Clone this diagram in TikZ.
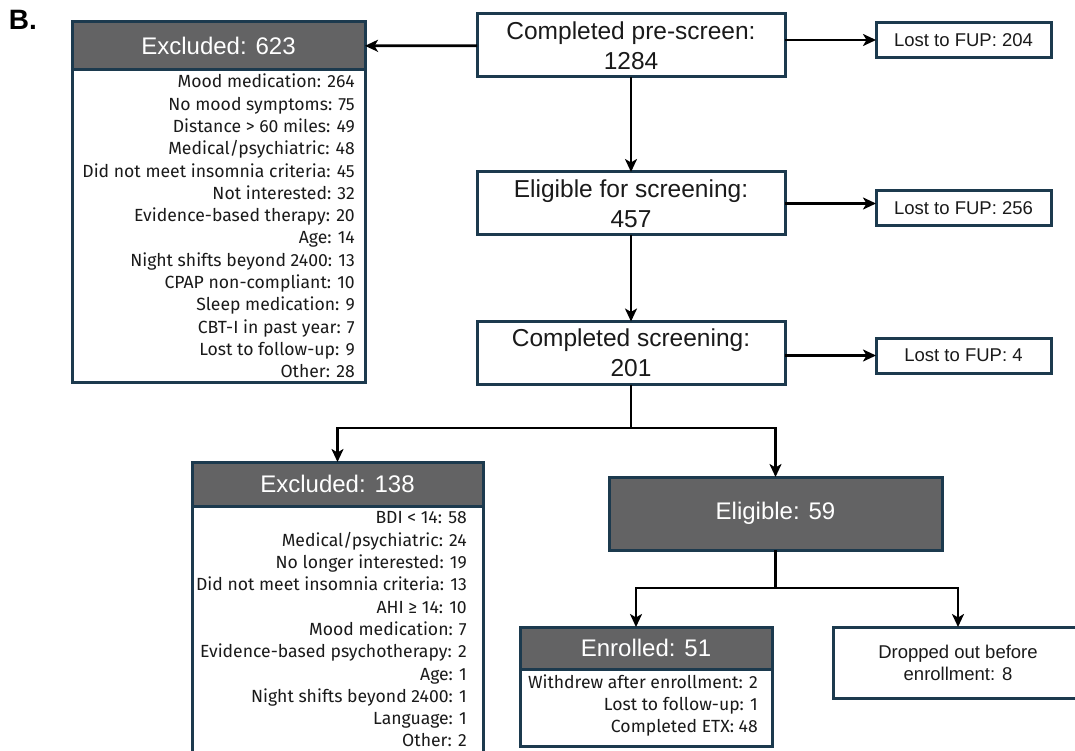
\documentclass[tikz,border=0pt]{standalone}
\usepackage{fontspec}
\setmainfont{Liberation Sans}
\newfontfamily\listfont{Fira Sans}
\usepackage{xcolor}
\usetikzlibrary{positioning,arrows.meta}
\definecolor{navy}{RGB}{28,58,78}
\definecolor{hdrgray}{RGB}{99,99,100}
\definecolor{ink}{RGB}{26,26,26}

\begin{document}
\begin{tikzpicture}[x=1pt,y=-1pt,
  mainbox/.style={draw=navy,line width=3pt,fill=white,outer sep=0pt,inner sep=0pt,minimum width=308pt,minimum height=63pt,align=center,text=ink,font=\fontsize{24.5}{30}\selectfont},
  lostbox/.style={draw=navy,line width=3pt,fill=white,outer sep=0pt,inner sep=0pt,minimum width=175pt,minimum height=35pt,align=center,text=ink,font=\fontsize{18.5}{22}\selectfont},
  hdr/.style={draw=navy,line width=3pt,fill=hdrgray,outer sep=0pt,inner sep=0pt,text=white,font=\fontsize{24}{28}\selectfont},
  lstbox/.style={draw=navy,line width=3pt,fill=white,outer sep=0pt,inner sep=0pt},
  lst/.style={inner sep=0pt,align=right,text=ink,font=\listfont\fontsize{17.6}{22.3}\selectfont},
  arr/.style={line width=2.8pt,-{Stealth[length=13pt,width=12pt,inset=3.5pt]}},
  link/.style={line width=2.8pt}
]
\useasboundingbox (0,0) rectangle (1075,751);
\clip (0,0) rectangle (1075,751);

\node[font=\bfseries\fontsize{28}{30}\selectfont] (lbl) at (23,20) {B.};

% main column
\node[mainbox] (pre) at (631,45.5) {Completed pre-screen:\\1284};
\node[mainbox] (elig) at (631,203.5) {Eligible for screening:\\457};
\node[mainbox] (scr) at (631,353) {Completed screening:\\201};

% lost to follow-up
\node[lostbox] (lost1) at (963.5,40) {Lost to FUP: 204};
\node[lostbox] (lost2) at (963.5,208.5) {Lost to FUP: 256};
\node[lostbox] (lost3) at (963.5,355.5) {Lost to FUP: 4};

% first exclusions
\node[hdr,minimum width=293pt,minimum height=48pt] (exc1) at (218.5,46) {Excluded: 623};
\node[lstbox,below=0pt of exc1,minimum width=293pt,minimum height=312pt] (exc1box) {};
\node[lst,anchor=east] (exc1list) at ([xshift=-10pt]exc1box.east) {Mood medication: 264\\No mood symptoms: 75\\Distance > 60 miles: 49\\Medical/psychiatric: 48\\Did not meet insomnia criteria: 45\\Not interested: 32\\Evidence-based therapy: 20\\Age: 14\\Night shifts beyond 2400: 13\\CPAP non-compliant: 10\\Sleep medication: 9\\CBT-I in past year: 7\\Lost to follow-up: 9\\Other: 28};

% second exclusions
\node[hdr,minimum width=291pt,minimum height=44pt] (exc2) at (337.5,484) {Excluded: 138};
\node[lstbox,below=0pt of exc2,minimum width=291pt,minimum height=251pt] (exc2box) {};
\node[lst,anchor=east] (exc2list) at ([xshift=-16pt,yshift=2pt]exc2box.east) {BDI < 14: 58\\Medical/psychiatric: 24\\No longer interested: 19\\Did not meet insomnia criteria: 13\\AHI ≥ 14: 10\\Mood medication: 7\\Evidence-based psychotherapy: 2\\Age: 1\\Night shifts beyond 2400: 1\\Language: 1\\Other: 2};

% eligible
\node[hdr,minimum width=333pt,minimum height=73pt] (eli) at (775.5,513.5) {Eligible: 59};

\node[hdr,minimum width=252pt,minimum height=42pt] (enr) at (646,648) {Enrolled: 51};
\node[lstbox,below=0pt of enr,minimum width=252pt,minimum height=77pt] (enrbox) {};
\node[lst,anchor=east] (enrlist) at ([xshift=-14pt,yshift=2pt]enrbox.east) {Withdrew after enrollment: 2\\Lost to follow-up: 1\\Completed ETX: 48};

\node[lostbox,minimum width=250pt,minimum height=71pt] (drop) at (958,662.5) {Dropped out before\\enrollment: 8};

% connectors
\draw[arr] (pre) -- (exc1);
\draw[arr] (pre.east |- lost1) -- (lost1);
\draw[arr] (pre) -- (elig);
\draw[arr] (elig.east) -- (elig.east -| lost2.west);
\draw[arr] (elig) -- (scr);
\draw[arr] (scr.east |- lost3) -- (lost3);
\coordinate (j1) at (631,428);
\draw[link] (scr) -- (j1);
\draw[arr] (j1) -| (exc2.north);
\draw[arr] (j1) -| (eli.north);
\coordinate (j2) at (775.5,588);
\draw[link] (eli) -- (j2);
\draw[arr] (j2) -| ([xshift=-10pt]enr.north);
\draw[arr] (j2) -| (drop.north);
\end{tikzpicture}
\end{document}
